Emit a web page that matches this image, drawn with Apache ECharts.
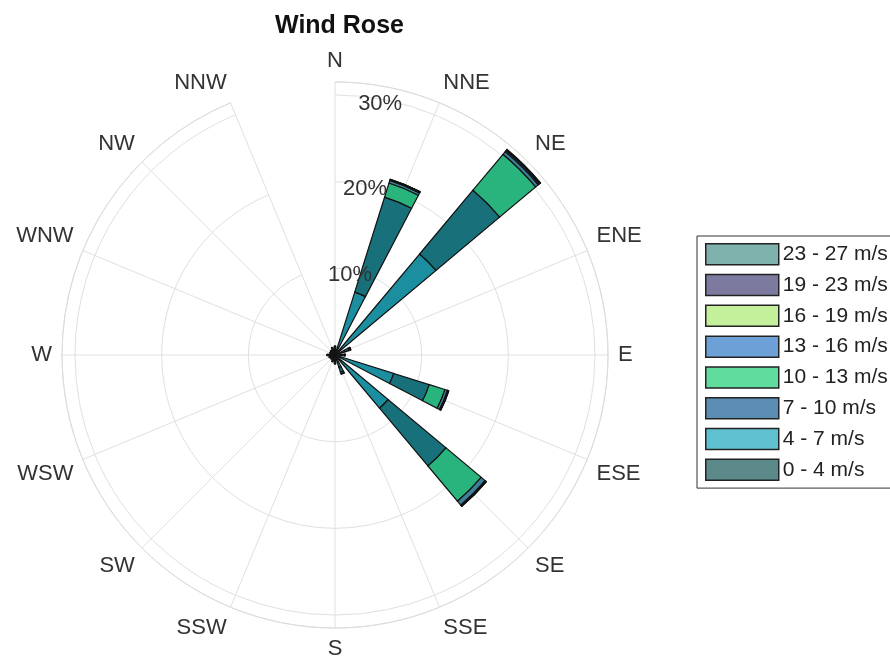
<!DOCTYPE html>
<html>
<head>
<meta charset="utf-8">
<script src="https://cdn.jsdelivr.net/npm/echarts@6/dist/echarts.min.js"></script>
<style>
  html, body { margin: 0; padding: 0; background: #ffffff; }
  #chart { width: 890px; height: 663px; }
</style>
</head>
<body>
<div id="chart"></div>
<script>
// Compass sectors, clockwise from north
const directions = ['N', 'NNE', 'NE', 'ENE', 'E', 'ESE', 'SE', 'SSE',
                    'S', 'SSW', 'SW', 'WSW', 'W', 'WNW', 'NW', 'NNW'];

// Frequency (%) of each speed class per sector, listed in stacking order from the centre
const speed4to7   = [0.6, 7.6, 15.2, 1.2, 0.8, 7.1, 8.0, 1.5, 0.6, 0.5, 0.4, 0.4, 0.5, 0.4, 0.4, 0.5];
const speed0to4   = [0.3, 11.5, 9.6, 0.5, 0.3, 4.3, 8.7, 0.6, 0.3, 0.2, 0.2, 0.2, 0.3, 0.2, 0.2, 0.3];
const speed10to13 = [0.1, 1.7, 5.4, 0.2, 0.1, 1.9, 5.3, 0.2, 0.1, 0.1, 0, 0.1, 0.1, 0, 0.1, 0.1];
const speed7to10  = [0, 0.3, 0.4, 0, 0, 0.3, 0.6, 0, 0, 0, 0, 0, 0, 0, 0, 0];
const speed13to16 = [0, 0.1, 0.15, 0, 0, 0.1, 0.1, 0, 0, 0, 0, 0, 0, 0, 0, 0];
const speed16to19 = [0, 0.05, 0.1, 0, 0, 0.05, 0.05, 0, 0, 0, 0, 0, 0, 0, 0, 0];
const speed19to23 = [0, 0, 0.05, 0, 0, 0, 0.03, 0, 0, 0, 0, 0, 0, 0, 0, 0];
const speed23to27 = [0, 0, 0.03, 0, 0, 0, 0, 0, 0, 0, 0, 0, 0, 0, 0, 0];

// Radial tick labels
const radialTicks = [10, 20, 30];

const classes = [
  { name: '4 - 7 m/s',   data: speed4to7,   bar: '#1b8e9f', key: '#5fc0d0' },
  { name: '0 - 4 m/s',   data: speed0to4,   bar: '#18707a', key: '#5c8a8a' },
  { name: '10 - 13 m/s', data: speed10to13, bar: '#29b47e', key: '#60dc9f' },
  { name: '7 - 10 m/s',  data: speed7to10,  bar: '#3d8099', key: '#5b8db2' },
  { name: '13 - 16 m/s', data: speed13to16, bar: '#3f78b8', key: '#6ea0d8' },
  { name: '16 - 19 m/s', data: speed16to19, bar: '#9fd86a', key: '#c4ef9b' },
  { name: '19 - 23 m/s', data: speed19to23, bar: '#4f4a7c', key: '#7d7aa0' },
  { name: '23 - 27 m/s', data: speed23to27, bar: '#4f908c', key: '#7fb1ad' }
];

// Legend lists the fastest class first
const legendOrder = ['23 - 27 m/s', '19 - 23 m/s', '16 - 19 m/s', '13 - 16 m/s',
                     '10 - 13 m/s', '7 - 10 m/s', '4 - 7 m/s', '0 - 4 m/s'];

const font = '"Liberation Sans", Arial, Helvetica, sans-serif';
const center = [335, 355];
// radial labels sit a few pixels below their rings
const labelCenter = [335, 360];
const outerRadius = 273;
const rMax = 31.5;

const chart = echarts.init(document.getElementById('chart'), null, { renderer: 'canvas' });

chart.setOption({
  animation: false,
  backgroundColor: '#ffffff',
  title: {
    text: 'Wind Rose',
    left: 270,
    top: 9,
    textStyle: { fontFamily: font, fontSize: 25, fontWeight: 'bold', color: '#111' }
  },
  legend: {
    orient: 'vertical',
    left: 697,
    top: 236,
    padding: [7, 8, 7, 8],
    itemWidth: 73,
    itemHeight: 21,
    itemGap: 8.3,
    borderColor: '#333',
    borderWidth: 1,
    icon: 'rect',
    textStyle: { fontFamily: font, fontSize: 21, color: '#222', padding: [0, 0, 0, -1] },
    data: legendOrder.map(function (n) {
      const c = classes.find(function (k) { return k.name === n; });
      return { name: n, icon: 'rect', itemStyle: { color: c.key, borderColor: '#222', borderWidth: 1.5 } };
    })
  },
  polar: [
    { center: center, radius: outerRadius },
    { center: labelCenter, radius: outerRadius }
  ],
  angleAxis: [
    {
      polarIndex: 0,
      type: 'category',
      data: directions,
      startAngle: 90,
      clockwise: true,
      boundaryGap: false,
      axisLine: { show: true, lineStyle: { color: '#dcdcdc', width: 1 } },
      axisTick: { show: false },
      axisLabel: { show: true, margin: 10, fontFamily: font, fontSize: 22, color: '#333' },
      splitLine: { show: true, lineStyle: { color: '#e0e0e0', width: 1 } },
      z: 0
    },
    {
      polarIndex: 1,
      type: 'value',
      min: 0,
      max: 360,
      startAngle: 80,
      show: false
    }
  ],
  radiusAxis: [
    {
      polarIndex: 0,
      type: 'value',
      min: 0,
      max: rMax,
      interval: 10,
      axisLine: { show: false },
      axisTick: { show: false },
      axisLabel: { show: false },
      splitLine: { show: true, lineStyle: { color: '#e0e0e0', width: 1 } },
      z: 0
    },
    {
      polarIndex: 1,
      type: 'value',
      min: 0,
      max: rMax,
      interval: 10,
      axisLine: { show: false },
      axisTick: { show: false },
      splitLine: { show: false },
      axisLabel: {
        show: true,
        margin: 0,
        align: 'center',
        verticalAlign: 'middle',
        fontFamily: font,
        fontSize: 22,
        color: '#333',
        formatter: function (v) {
          return radialTicks.indexOf(v) >= 0 ? v + '%' : '';
        }
      },
      z: 10
    }
  ],
  series: classes.map(function (c) {
    return {
      type: 'bar',
      name: c.name,
      coordinateSystem: 'polar',
      polarIndex: 0,
      stack: 'speed',
      barWidth: '45%',
      data: c.data,
      itemStyle: { color: c.bar, borderColor: '#111', borderWidth: 1.2 },
      z: 2
    };
  })
});
</script>
</body>
</html>
